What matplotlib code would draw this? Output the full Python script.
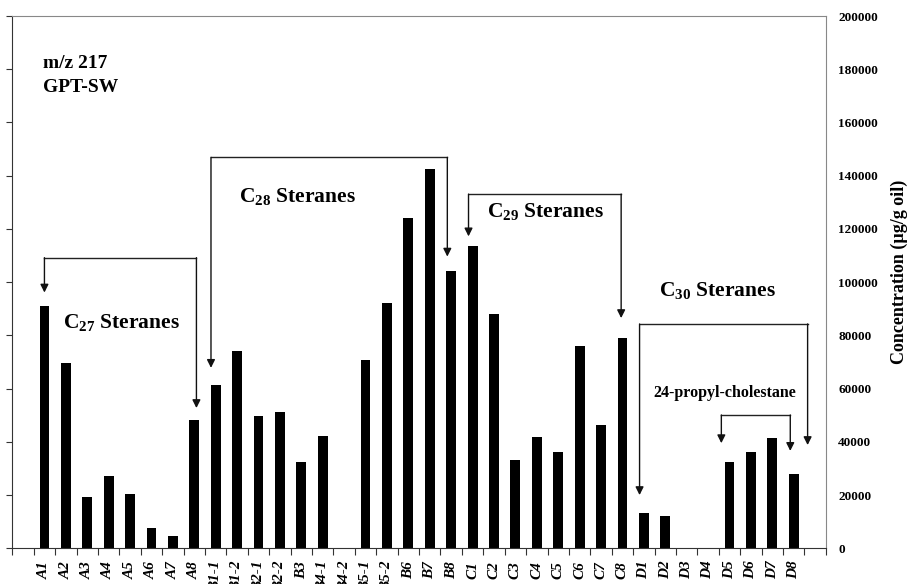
import matplotlib
matplotlib.use("Agg")
import matplotlib.pyplot as plt
import numpy as np

plt.rcParams["font.family"] = ["Liberation Serif", "DejaVu Serif"]
plt.rcParams["font.weight"] = "bold"
plt.rcParams["mathtext.fontset"] = "custom"
plt.rcParams["mathtext.rm"] = "Liberation Serif:bold"
plt.rcParams["mathtext.it"] = "Liberation Serif:bold:italic"
plt.rcParams["mathtext.bf"] = "Liberation Serif:bold"

# compound labels (empty slot at each end, as in the original)
labels = ["", "A1", "A2", "A3", "A4", "A5", "A6", "A7", "A8",
          "B1-1", "B1-2", "B2-1", "B2-2", "B3", "B4-1", "B4-2", "B5-1", "B5-2",
          "B6", "B7", "B8",
          "C1", "C2", "C3", "C4", "C5", "C6", "C7", "C8",
          "D1", "D2", "D3", "D4", "D5", "D6", "D7", "D8", ""]

# concentration, ug/g oil
values = [0, 91100, 69800, 19400, 27300, 20300, 7500, 4700, 48200,
          61500, 74100, 49700, 51400, 32400, 42300, 0, 70800, 92100,
          124100, 142600, 104100,
          113400, 88000, 33100, 42000, 36200, 76100, 46200, 79100,
          13400, 12100, 0, 0, 32300, 36200, 41600, 27800, 0]

yticks = np.arange(0, 200001, 20000)

fig = plt.figure(figsize=(9.13, 5.84), dpi=100)
ax = fig.add_axes([0.0135, 0.0611, 0.891, 0.9115])

x = np.arange(len(labels))
ax.bar(x, values, width=0.46, color="black")

ax.set_xlim(-0.5, len(labels) - 0.5)
ax.set_ylim(0, 200000)

# ticks between categories, labels in the middle
ax.set_xticks(np.arange(len(labels) + 1) - 0.5)
ax.set_xticklabels([])
ax.set_xticks(x, minor=True)
ax.set_xticklabels(labels, minor=True, rotation=90, fontsize=11,
                   fontstyle="italic", fontweight="bold")
ax.tick_params(axis="x", which="major", direction="out", length=5, color="#333333")
ax.tick_params(axis="x", which="minor", length=0, pad=9)

ax.set_yticks(yticks)
ax.set_yticklabels([str(v) for v in yticks], fontsize=9.5, fontweight="bold")
ax.tick_params(axis="y", left=True, right=False, labelleft=False, labelright=True,
               length=4, direction="out", color="#333333", pad=5)
ax.yaxis.set_label_position("right")
ax.set_ylabel("Concentration (µg/g oil)", fontsize=13, fontweight="bold",
              rotation=90)
ax.yaxis.set_label_coords(1.08, 0.52)

for side in ["left", "bottom"]:
    ax.spines[side].set_color("#333333")
for side in ["top", "right"]:
    ax.spines[side].set_color("#888888")


def bracket(x1, x2, ytop, tip1, tip2):
    ax.plot([x1, x2], [ytop, ytop], color="#222222", lw=1)
    for xx, tip in [(x1, tip1), (x2, tip2)]:
        ax.annotate("", xy=(xx, tip), xytext=(xx, ytop),
                    arrowprops=dict(arrowstyle="-|>", color="#111111", lw=1,
                                    mutation_scale=12, shrinkA=0, shrinkB=0))


bracket(1.0, 8.1, 109200, 96100, 52700)
bracket(8.78, 19.82, 146900, 67800, 109600)
bracket(20.81, 27.94, 133100, 117200, 86500)
bracket(28.8, 36.65, 84300, 20000, 38800)
bracket(32.62, 35.84, 50100, 39500, 36600)

ax.text(1.85, 84700, r"C$_{27}$ Steranes", fontsize=15.5, va="center", ha="left")
ax.text(10.08, 132200, r"C$_{28}$ Steranes", fontsize=15.5, va="center", ha="left")
ax.text(21.67, 126600, r"C$_{29}$ Steranes", fontsize=15.5, va="center", ha="left")
ax.text(29.69, 96900, r"C$_{30}$ Steranes", fontsize=15.5, va="center", ha="left")
ax.text(29.45, 58300, "24-propyl-cholestane", fontsize=11.5, va="center", ha="left")

fig.text(43 / 913, 1 - 63 / 584, "m/z 217", fontsize=14, va="center", ha="left")
fig.text(43 / 913, 1 - 88 / 584, "GPT-SW", fontsize=14, va="center", ha="left")

fig.savefig("out.png", dpi=100)
